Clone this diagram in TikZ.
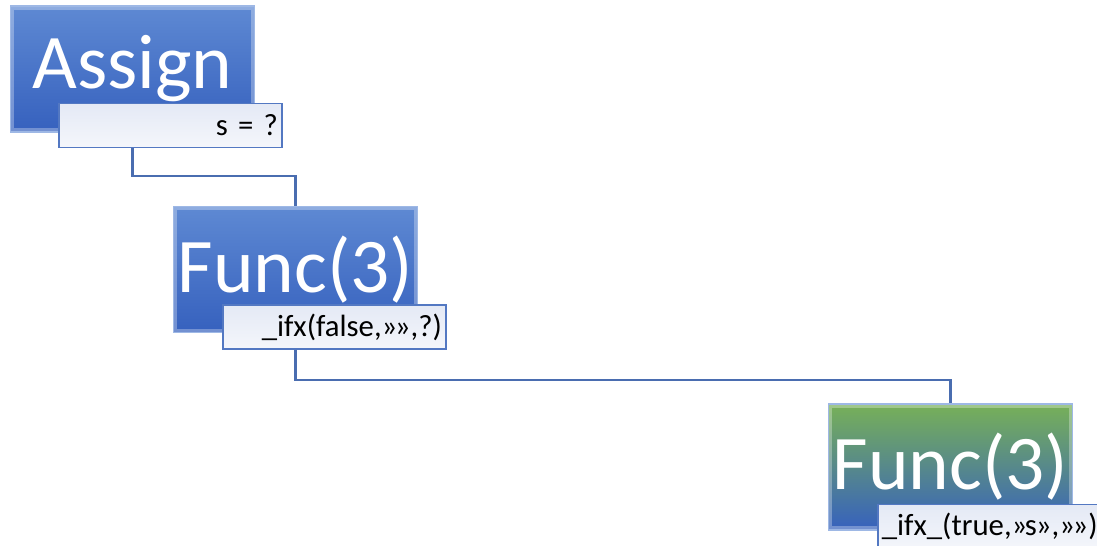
\documentclass[tikz,border=0pt]{standalone}
\usepackage{fontspec}
\setmainfont{Carlito}
\usetikzlibrary{calc}
\definecolor{boxtop}{HTML}{5E89D3}
\definecolor{boxbot}{HTML}{3661BE}
\definecolor{boxgreen}{HTML}{77B058}
\definecolor{labfill}{HTML}{E4E9F5}
\definecolor{labline}{HTML}{5378C2}
\definecolor{conncol}{HTML}{4A6DB0}
\newcommand{\gq}{»\kern-1.5pt}

\begin{document}
\begin{tikzpicture}[
  blk/.style={rectangle,top color=boxtop,bottom color=boxbot,draw=boxtop!60!white,line width=0.6pt,
    minimum width=4.88cm,minimum height=2.52cm,inner sep=0pt,text=white,font=\fontsize{44}{46}\selectfont,
    path picture={\draw[white,opacity=0.3,line width=4pt] (path picture bounding box.south west) rectangle (path picture bounding box.north east);}},
  blkg/.style={blk,top color=boxgreen,middle color=boxtop!80!boxgreen,bottom color=boxbot},
  lab/.style={rectangle,anchor=north west,top color=labfill,bottom color=labfill!40!white,draw=labline,line width=1pt,
    minimum width=4.46cm,minimum height=0.88cm,text width=4.3cm,align=right,inner sep=2pt,font=\fontsize{17.5}{19}\selectfont},
  conn/.style={draw=conncol,line width=1.2pt}]
  \useasboundingbox (0,0) rectangle (21.94,-10.92);
  % ---------- boxes ----------
  \node[blk] (assign) at (2.65,-1.38) {Assign};
  \node[lab] (alab) at ([shift={(0.96,0.6)}]assign.south west) {s = ?};
  \node[blk] (fone) at (5.91,-5.39) {Func(3)};
  \node[lab] (fonelab) at ([shift={(0.98,0.58)}]fone.south west) {\_ifx(false,\gq»,?)};
  \node[blkg] (ftwo) at (19.01,-9.34) {Func(3)};
  \node[lab] (ftwolab) at ([shift={(0.98,0.54)}]ftwo.south west) {\_ifx\_(true,\gq s\kern-0.5pt»,\gq»)\kern2pt};
  % ---------- connectors ----------
  \draw[conn] (assign.south |- alab.south) -- ++(0,-0.56) -| (fone.north);
  \draw[conn] (fone.south |- fonelab.south) -- ++(0,-0.6) -| (ftwo.north);
\end{tikzpicture}
\end{document}
